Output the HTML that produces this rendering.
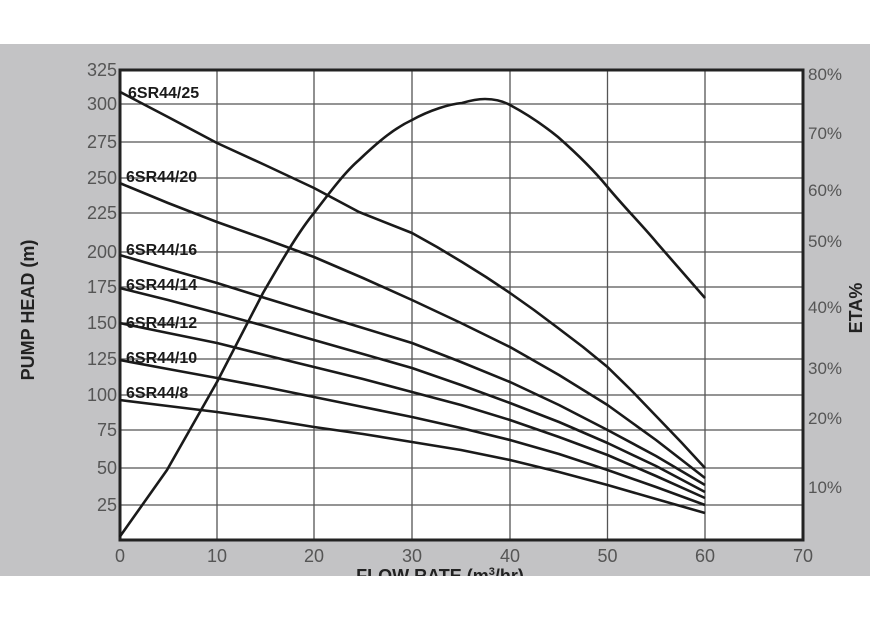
<!DOCTYPE html>
<html><head><style>
body{margin:0;width:870px;height:619px;background:#fff;overflow:hidden}
svg{display:block}
text{font-family:"Liberation Sans",sans-serif}
</style></head><body>
<svg width="870" height="619" viewBox="0 0 870 619">
<defs><clipPath id="band"><rect x="0" y="44" width="870" height="532"/></clipPath></defs>
<rect x="0" y="44" width="870" height="532" fill="#c3c3c5"/>
<rect x="120" y="70" width="683" height="470" fill="#fff"/>
<g stroke="#555" stroke-width="1.3">
<line x1="217" y1="70" x2="217" y2="540"/><line x1="314" y1="70" x2="314" y2="540"/>
<line x1="412" y1="70" x2="412" y2="540"/><line x1="510" y1="70" x2="510" y2="540"/>
<line x1="607.5" y1="70" x2="607.5" y2="540"/><line x1="705" y1="70" x2="705" y2="540"/>
<line x1="120" y1="104" x2="803" y2="104"/><line x1="120" y1="142" x2="803" y2="142"/>
<line x1="120" y1="178" x2="803" y2="178"/><line x1="120" y1="213" x2="803" y2="213"/>
<line x1="120" y1="252" x2="803" y2="252"/><line x1="120" y1="287" x2="803" y2="287"/>
<line x1="120" y1="323" x2="803" y2="323"/><line x1="120" y1="359" x2="803" y2="359"/>
<line x1="120" y1="395" x2="803" y2="395"/><line x1="120" y1="430" x2="803" y2="430"/>
<line x1="120" y1="468" x2="803" y2="468"/><line x1="120" y1="505" x2="803" y2="505"/>
</g>
<rect x="120" y="70" width="683" height="470" fill="none" stroke="#222" stroke-width="3"/>
<g fill="none" stroke="#1a1a1a" stroke-width="2.6" stroke-linejoin="round">
<polyline points="119.6,91.7 168,117 217,143 265,165 314,188 359,212 412,233 437,247 462,262 486,277 510,293 534,310 558,328 583,347 607.5,367 632,391 657,417 681,442 705,468"/>
<polyline points="119.6,183 168,203 217,222 265,239 314,257 363,278 412,300 461,323 510,347 559,375 607.5,405 656,440 705,478"/>
<polyline points="119.6,255 168,269 217,283 265,298 314,313 363,328 412,343 461,362 510,382 559,405 607.5,430 656,456 705,485"/>
<polyline points="119.6,288 168,300 217,313 265,326 314,340 363,354 412,368 461,385 510,403 559,422 607.5,443 656,466 705,492"/>
<polyline points="119.6,323 168,333 217,343 265,355 314,367 363,379 412,392 461,405 510,420 559,437 607.5,455 656,476 705,498"/>
<polyline points="119.6,360 168,369 217,378 265,387 314,397 363,407 412,417 461,428 510,440 559,454 607.5,470 656,487 705,505"/>
<polyline points="119.6,400 168,406 217,412 265,419 314,427 363,434 412,442 461,450 510,460 559,472 607.5,485 656,499 705,513"/>
<path d="M119.6,537 L167,470 L217,382 L263,293 C285,255 300,230 314,213 C330,192 345,172 359,160 C380,140 395,128 412,120 C430,110 450,104 462,103 C472,100 480,99 485,99 C495,99 503,101 510,105 C525,113 542,124 558,137 C575,152 592,168 607.5,187 C625,208 642,225 657,243 L705,298"/>
</g>
<g font-size="16" font-weight="bold" fill="#1a1a1a">
<text x="128" y="98">6SR44/25</text><text x="126" y="182">6SR44/20</text>
<text x="126" y="255">6SR44/16</text><text x="126" y="290">6SR44/14</text>
<text x="126" y="328">6SR44/12</text><text x="126" y="363">6SR44/10</text>
<text x="126" y="398">6SR44/8</text>
</g>
<g font-size="18" fill="#555" text-anchor="end">
<text x="117" y="76">325</text><text x="117" y="110">300</text><text x="117" y="148">275</text>
<text x="117" y="184">250</text><text x="117" y="219">225</text><text x="117" y="258">200</text>
<text x="117" y="293">175</text><text x="117" y="329">150</text><text x="117" y="365">125</text>
<text x="117" y="401">100</text><text x="117" y="436">75</text><text x="117" y="474">50</text>
<text x="117" y="511">25</text>
</g>
<g font-size="17" fill="#555">
<text x="808" y="80">80%</text><text x="808" y="139">70%</text><text x="808" y="196">60%</text>
<text x="808" y="247">50%</text><text x="808" y="313">40%</text><text x="808" y="374">30%</text>
<text x="808" y="424">20%</text><text x="808" y="493">10%</text>
</g>
<g font-size="18" fill="#555" text-anchor="middle">
<text x="120" y="562">0</text><text x="217" y="562">10</text><text x="314" y="562">20</text>
<text x="412" y="562">30</text><text x="510" y="562">40</text><text x="607.5" y="562">50</text>
<text x="705" y="562">60</text><text x="803" y="562">70</text>
</g>
<g clip-path="url(#band)">
<text x="440" y="582" font-size="18" font-weight="bold" fill="#222" text-anchor="middle">FLOW RATE (m<tspan font-size="11" dy="-7">3</tspan><tspan dy="7">/hr)</tspan></text>
</g>
<text transform="translate(34,310) rotate(-90)" font-size="18" font-weight="bold" fill="#222" text-anchor="middle">PUMP HEAD (m)</text>
<text transform="translate(862,308) rotate(-90)" font-size="18" font-weight="bold" fill="#222" text-anchor="middle">ETA%</text>
</svg>
</body></html>
